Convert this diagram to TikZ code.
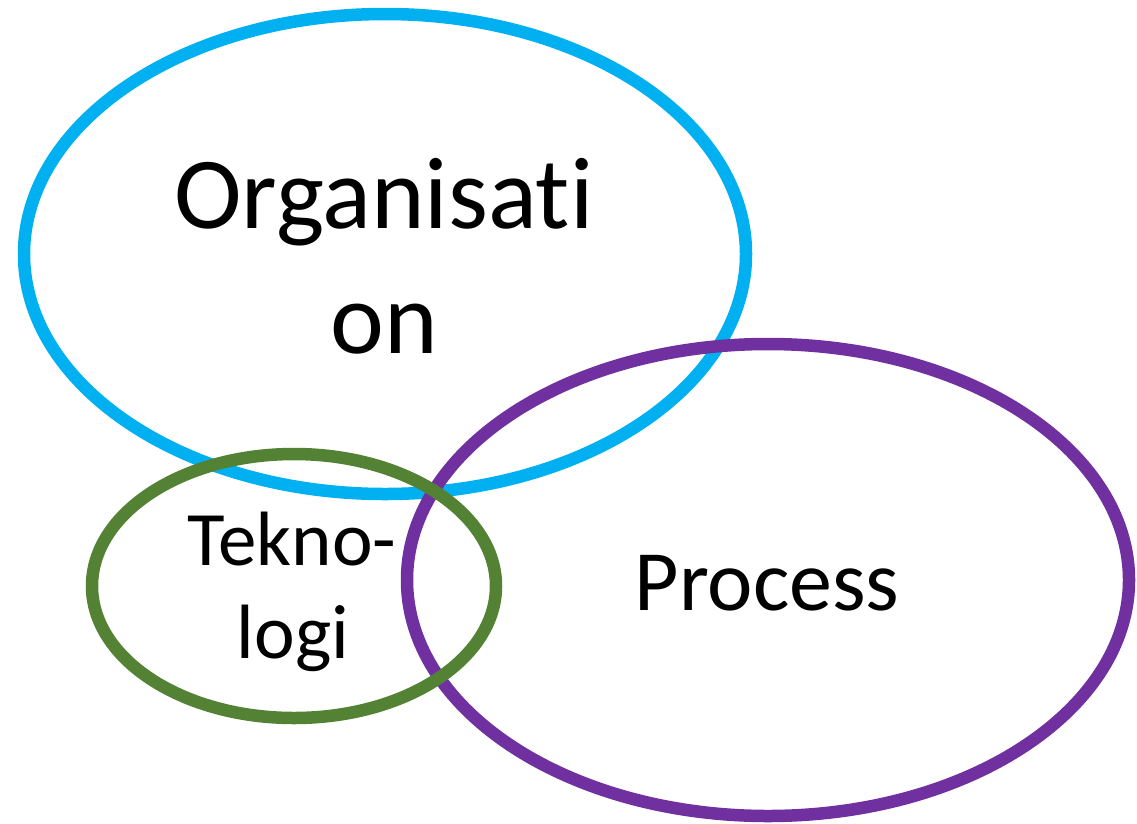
\documentclass[tikz,border=0pt]{standalone}
\usepackage{fontspec}
\setmainfont{Carlito}[RawFeature={-liga;-clig;-calt;-dlig}]
\usetikzlibrary{shapes.geometric}
\definecolor{orgblue}{HTML}{00B0F0}
\definecolor{procpurple}{HTML}{7030A0}
\definecolor{tekgreen}{HTML}{548235}
\tikzset{
  ring/.style={ellipse, draw=#1, line width=12.5pt, inner sep=0pt, outer sep=0pt},
  label/.style={anchor=base, inner sep=0pt, text=black},
}
\begin{document}
\begin{tikzpicture}[x=1pt, y=-1pt]
  \useasboundingbox (0,0) rectangle (1137,823);
  % the three overlapping areas
  \node[ring=orgblue, minimum width=722pt, minimum height=480pt] (org) at (385,254) {};
  \node[ring=procpurple, minimum width=722pt, minimum height=472pt] (proc) at (768,580) {};
  \node[ring=tekgreen, minimum width=404pt, minimum height=264pt] (tek) at (294,586) {};
  % labels
  \node[label, font=\fontsize{102}{124}\selectfont] (orgA) at (384,228) {Organisat\kern0pt i};
  \node[label, font=\fontsize{102}{124}\selectfont] (orgB) at (384,353) {on};
  \node[label, font=\fontsize{86}{104}\selectfont] (procL) at (767,610) {Process};
  \node[label, font=\fontsize{77}{94}\selectfont] (tekA) at (292,565) {Tekno-};
  \node[label, font=\fontsize{77}{94}\selectfont] (tekB) at (293,658) {logi};
\end{tikzpicture}
\end{document}
